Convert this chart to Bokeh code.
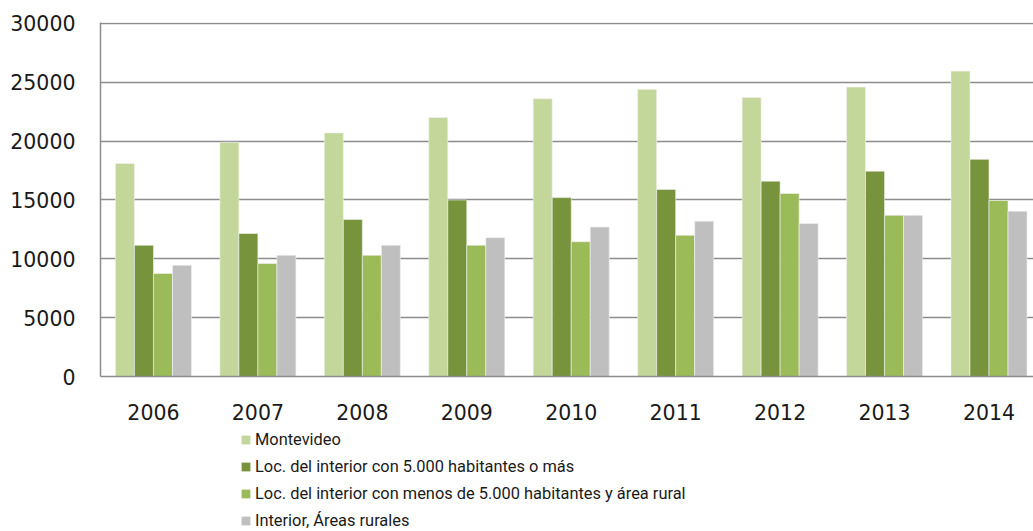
from bokeh.plotting import figure
from bokeh.models import ColumnDataSource, Range1d, FixedTicker, Legend, LegendItem
from bokeh.layouts import column
from bokeh.transform import dodge
from bokeh.embed import file_html
from bokeh.resources import INLINE

years = ["2006", "2007", "2008", "2009", "2010", "2011", "2012", "2013", "2014"]
montevideo = [18100, 19900, 20700, 22000, 23600, 24400, 23700, 24600, 25950]
loc_mas_5000 = [11150, 12150, 13350, 15000, 15200, 15900, 16600, 17450, 18450]
loc_menos_5000 = [8750, 9600, 10300, 11150, 11450, 12000, 15550, 13700, 14950]
interior_rural = [9450, 10300, 11150, 11800, 12700, 13200, 13000, 13700, 14050]

series_labels = [
    "Montevideo",
    "Loc. del interior con 5.000 habitantes o más",
    "Loc. del interior con menos de 5.000 habitantes y área rural",
    "Interior, Áreas rurales",
]
colors = ["#C4D79B", "#77933C", "#9BBB59", "#BFBFBF"]
cols = ["m", "l", "s", "r"]

src = ColumnDataSource(dict(
    idx=list(range(len(years))),
    m=montevideo, l=loc_mas_5000, s=loc_menos_5000, r=interior_rural,
))

p = figure(width=1033, height=428, output_backend="svg", toolbar_location=None,
           x_range=Range1d(-0.507, 8.426), y_range=Range1d(0, 30080),
           min_border_left=100, min_border_right=0, min_border_top=22, min_border_bottom=52)
p.outline_line_color = None
p.background_fill_color = "white"

bw = 0.182
offsets = [-0.273, -0.091, 0.091, 0.273]
for col, off, c in zip(cols, offsets, colors):
    p.vbar(x=dodge("idx", off), top=col, width=bw, source=src,
           fill_color=c, line_color="#f2f2f2", line_width=0.6)

p.xaxis.ticker = FixedTicker(ticks=list(range(len(years))))
p.xaxis.major_label_overrides = {i: y for i, y in enumerate(years)}
p.yaxis.ticker = FixedTicker(ticks=[0, 5000, 10000, 15000, 20000, 25000, 30000])

for ax in (p.xaxis, p.yaxis):
    ax.major_tick_line_color = None
    ax.minor_tick_line_color = None
    ax.axis_line_color = "#8c8c8c"
    ax.axis_line_width = 1.5
    ax.major_label_text_font = "DejaVu Sans"
    ax.major_label_text_font_size = "20.5px"
    ax.major_label_text_color = "#1a1a1a"
p.xaxis.major_label_standoff = 21
p.yaxis.major_label_standoff = 19
p.xgrid.grid_line_color = None
p.ygrid.grid_line_color = "#8c8c8c"
p.ygrid.grid_line_width = 1.5

# legend figure (same data source, glyphs hidden; only the legend shows)
lg = figure(width=1033, height=103, output_backend="svg", toolbar_location=None,
            x_axis_location=None, y_axis_location=None,
            x_range=Range1d(100, 101), y_range=Range1d(100, 101),
            min_border=0)
lg.outline_line_color = None
lg.xgrid.visible = False
lg.ygrid.visible = False
lrs = []
for col, off, c in zip(cols, offsets, colors):
    r = lg.vbar(x=dodge("idx", off), top=col, width=bw, source=src,
                fill_color=c, line_color=None, visible=False)
    lrs.append(r)

legend = Legend(items=[LegendItem(label=lab, renderers=[r]) for lab, r in zip(series_labels, lrs)],
                location=(140, 1), orientation="vertical",
                glyph_width=11, glyph_height=11, label_height=18, spacing=8,
                label_standoff=4, padding=0, margin=0,
                label_text_font="Roboto", label_text_font_size="16.4px",
                label_text_color="#1a1a1a",
                border_line_color=None, background_fill_alpha=0)
lg.add_layout(legend, "center")

open("out.html", "w").write(file_html(column(p, lg, spacing=0), INLINE))
